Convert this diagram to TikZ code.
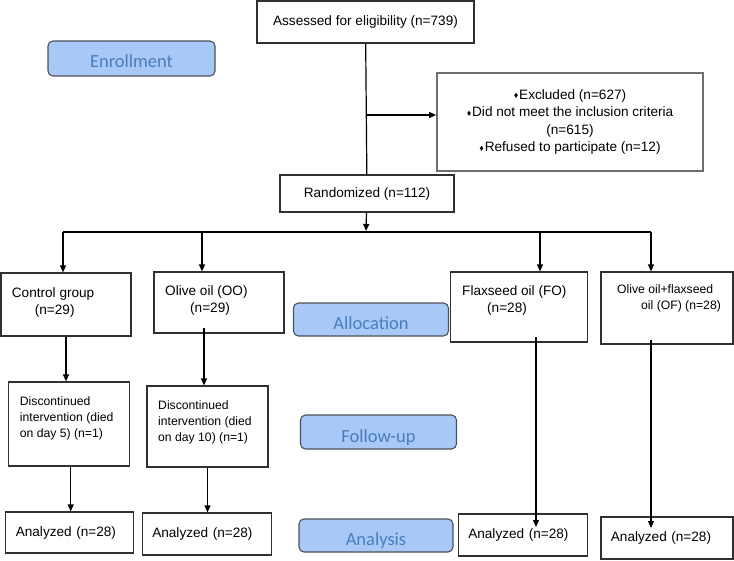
\documentclass[tikz,border=0pt]{standalone}
\usepackage{amssymb}
\usepackage{fontspec}
\setmainfont{Liberation Sans}
\newfontfamily\pillfont{Carlito}
\usetikzlibrary{arrows.meta}
\definecolor{boxline}{HTML}{303030}
\definecolor{exline}{HTML}{6E6E6E}
\definecolor{pillfill}{HTML}{A8C8F8}
\definecolor{pillline}{HTML}{4E5058}
\definecolor{pilltext}{HTML}{4A7EBB}
\newcommand\bigtxt{\fontsize{13.6}{17.4}\selectfont}
\newcommand\smalltxt{\fontsize{12.2}{16}\selectfont}
\newcommand\dia{\raisebox{1.5pt}{\fontsize{6}{6}\selectfont$\blacklozenge$}\kern0.8pt}
\begin{document}
\begin{tikzpicture}[x=1pt,y=-1pt,
  box/.style={draw=boxline, line width=1.2pt, font=\bigtxt},
  pill/.style={draw=pillline, fill=pillfill, line width=1.1pt, rounded corners=5pt, text=pilltext, text height=20pt, text depth=0pt, font=\pillfont\fontsize{18.5}{20}\selectfont},
  anbox/.style={box, align=left, inner xsep=10pt, inner ysep=0pt},
  txt/.style={anchor=north west, inner sep=0pt, align=left},
  arr/.style={-{Triangle[length=7pt,width=6pt]}, line width=1.2pt},
  con/.style={line width=1.2pt}]
\useasboundingbox (0,0) rectangle (734,560);

\node[box, minimum width=217pt, minimum height=42pt] (1) at (365.5,22) {Assessed for eligibility (n=739)};
\node[box, draw=exline, line width=1.8pt, minimum width=266pt, minimum height=98pt, align=center] (2) at (570,122)
  {\dia Excluded (n=627)\\ \dia Did not meet the inclusion criteria\\ (n=615)\\ \dia Refused to participate (n=12)};
\node[box, minimum width=174pt, minimum height=37pt] (3) at (367,193.5) {Randomized (n=112)};

\node[pill, text height=17pt, minimum width=167pt, minimum height=35pt] (4) at (131.5,58.5) {Enrollment};
\node[pill, minimum width=155pt, minimum height=33pt] (5) at (371,319.5) {Allocation};
\node[pill, minimum width=156pt, minimum height=34pt] (12) at (378.5,432) {Follow-up};
\node[pill, minimum width=154pt, minimum height=33pt] (15) at (376,535.5) {Analysis};

% groups
\node[box, minimum width=130pt, minimum height=63pt] (6) at (66,304.5) {};
\node[txt, font=\bigtxt] at (11.7,287) {Control group\\\hspace*{23pt}(n=29)};
\node[box, minimum width=130pt, minimum height=61pt] (7) at (219,302.5) {};
\node[txt, font=\bigtxt] at (165,285) {Olive oil (OO)\\\hspace*{25pt}(n=29)};
\node[box, minimum width=137pt, minimum height=70pt] (8) at (519,307) {};
\node[txt, font=\bigtxt] at (462,285) {Flaxseed oil (FO)\\\hspace*{25pt}(n=28)};
\node[box, minimum width=132pt, minimum height=72pt] (9) at (667,308) {};
\node[txt, font=\smalltxt] at (617,284) {Olive oil+flaxseed\\\hspace*{24pt}oil (OF) (n=28)};

% follow-up
\node[box, minimum width=121pt, minimum height=84pt] (10) at (68.7,424) {};
\node[txt, font=\smalltxt] at (19.7,396) {Discontinued\\intervention (died\\on day 5) (n=1)};
\node[box, minimum width=121pt, minimum height=81pt] (11) at (207.5,426.5) {};
\node[txt, font=\smalltxt] at (158,400) {Discontinued\\intervention (died\\on day 10) (n=1)};

% analysis
\node[anbox, text width=108pt, minimum height=41pt] (13) at (69.8,532.5) {Analyzed (n=28)};
\node[anbox, text width=109pt, minimum height=42pt] (14) at (206.8,534) {Analyzed (n=28)};
\node[anbox, text width=109pt, minimum height=42pt] (16) at (522.8,535) {Analyzed (n=28)};
\node[anbox, text width=112pt, minimum height=42pt] (17) at (666.9,538) {Analyzed (n=28)};

\coordinate (e) at (366,115);
\coordinate (j) at (366,231);
\coordinate (b1) at (63,232);
\coordinate (b2) at (202,232);
\coordinate (b3) at (540,232);
\coordinate (b4) at (651,232);
\coordinate (o1) at (204,328);
\coordinate (f1) at (536,337);
\coordinate (f2) at (536,527);
\coordinate (g1) at (651,340);
\coordinate (g2) at (651,528);

\draw[con] (1) -- (3);
\draw[arr] (e) -- (e -| 2.west);
\draw[arr] (3) -- (j);
\draw[con] (b1) -- (b4);
\draw[arr] (b1) -- (b1 |- 6.north);
\draw[arr] (b2) -- (b2 |- 7.north);
\draw[arr] (b3) -- (b3 |- 8.north);
\draw[arr] (b4) -- (b4 |- 9.north);
\draw[arr] (6) -- (6.south |- 10.north);
\draw[arr] (o1) -- (o1 |- 11.north);
\draw[arr] ([xshift=2pt]10.south) -- ([xshift=2pt]10.south |- 13.north);
\draw[arr] (11.south) -- (11.south |- 14.north);
\draw[arr] (f1) -- (f2);
\draw[arr] (g1) -- (g2);
\end{tikzpicture}
\end{document}
